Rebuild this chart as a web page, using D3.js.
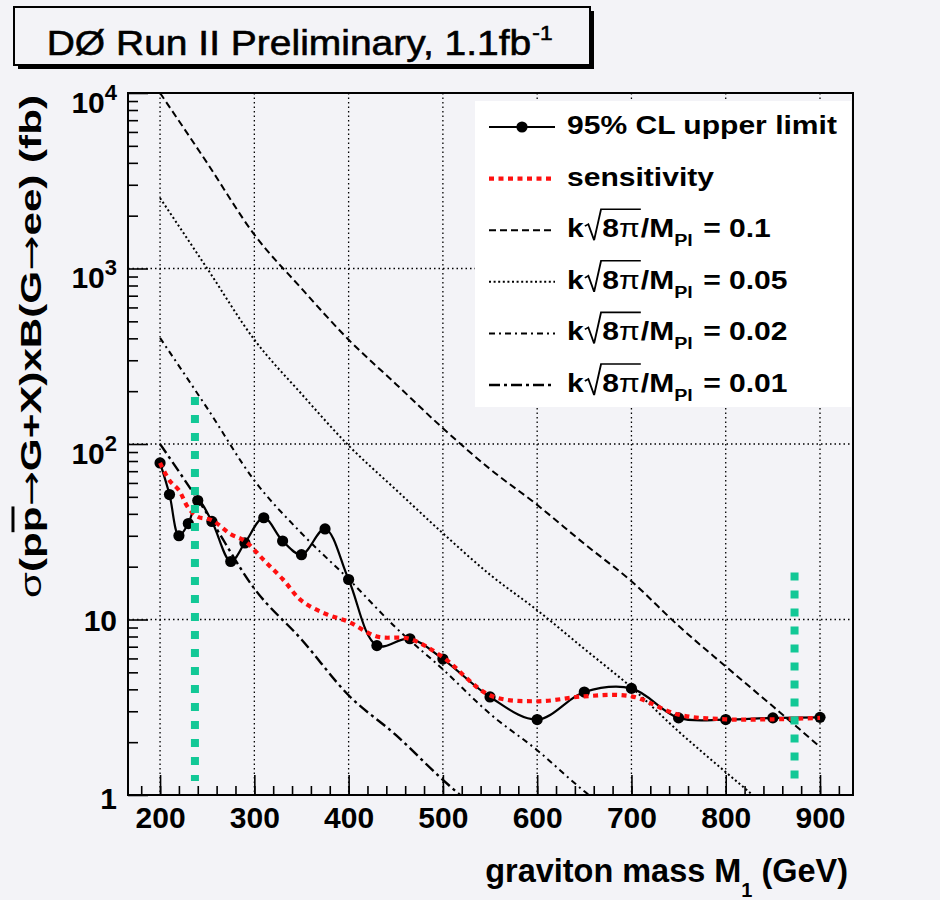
<!DOCTYPE html>
<html><head><meta charset="utf-8">
<script src="https://cdn.jsdelivr.net/npm/d3@7"></script>
<style>
body{margin:0;background:#f3f3f7}
text{font-family:"Liberation Sans",Arial,Helvetica,sans-serif}
</style>
</head><body>
<svg id="c" width="940" height="900"></svg>
<script>
// ---------------- data ----------------
const massLimit   = [200,210,220,230,240,255,275,290,310,330,350,375,400,430,465,500,550,600,650,700,750,800,850,900];
const upperLimit  = [78,51.5,30,35.2,47.6,36.2,21.4,27.3,38,28,23.4,32.8,16.9,7.1,7.77,5.95,3.62,2.69,3.86,4.05,2.75,2.69,2.75,2.77];
const sensitivity = [78,62,54.5,43.2,38.5,36.8,30.6,28,21.8,17,12.8,10.8,9.7,8.0,7.75,6.1,3.7,3.42,3.65,3.65,2.87,2.7,2.7,2.75];

const massTheory = [200,250,300,350,400,450,500,550,600,650,700,750,800,850,900];
const k010 = [10000,3990,1560,770,393,220,123,72,45,27,16.5,9.2,5.4,3.2,1.88];
const k005 = [2520,1000,393,193,98,55,31,18,11.3,6.8,4.1,2.3,1.35,0.8,0.47];
const k002 = [402,160,62,31,17,9,5.2,2.9,1.8,1.05,0.66,0.37,0.22,0.13,0.075];
const k001 = [100,40,15,7.7,3.7,2.2,1.22,0.72,0.45,0.27,0.165,0.093,0.054,0.032,0.019];

const exclMass   = [237, 873];
const exclTop    = [185, 18.5];
const exclBottom = [1.2, 1.22];

const xMajor = [200,300,400,500,600,700,800,900];
const xMinor = d3.range(180, 921, 20);
const yMajor = [1,10,100,1000,10000];
const yMajorLabels = [["1",""],["10",""],["10","2"],["10","3"],["10","4"]];
const yMinor = [1,10,100,1000].flatMap(d => [2,3,4,5,6,7,8,9].map(m => m*d));

const titleText = "DØ Run II Preliminary, 1.1fb";
const titleSup = "-1";
const legendNames = ["95% CL upper limit","sensitivity"];
const kValues = ["0.1","0.05","0.02","0.01"];

// ---------------- layout ----------------
const bg = "#f3f3f7";
const X0=128, X1=853, Y0=93, Y1=795;
const svg = d3.select("#c");
svg.append("rect").attr("width",940).attr("height",900).attr("fill",bg);

const x = d3.scaleLinear().domain([166,935]).range([X0,X1]);
const y = d3.scaleLog().domain([1,1e4]).range([Y1,Y0]);

svg.append("defs").append("clipPath").attr("id","plot")
  .append("rect").attr("x",X0).attr("y",Y0).attr("width",X1-X0).attr("height",Y1-Y0);

// grid
const grid = svg.append("g").attr("stroke","#000").attr("stroke-width",1.3).attr("stroke-dasharray","1.5 3");
grid.selectAll("line.v").data(xMajor).join("line").attr("class","v")
  .attr("x1",d=>x(d)).attr("x2",d=>x(d)).attr("y1",Y0).attr("y2",Y1);
grid.selectAll("line.h").data(yMajor.filter(d=>d>1&&d<1e4)).join("line").attr("class","h")
  .attr("x1",X0).attr("x2",X1).attr("y1",d=>y(d)).attr("y2",d=>y(d));

// axes
function styleAxis(g){ g.select(".domain").remove(); g.selectAll("line").attr("stroke","#000").attr("stroke-width",1.6); }
svg.append("g").attr("transform",`translate(0,${Y1})`)
  .call(d3.axisBottom(x).tickValues(xMinor).tickSize(-9).tickFormat("")).call(styleAxis);
const gxMajor = svg.append("g").attr("transform",`translate(0,${Y1})`)
  .call(d3.axisBottom(x).tickValues(xMajor).tickSize(-20).tickPadding(12).tickFormat(d3.format("d"))).call(styleAxis);
gxMajor.selectAll("text").attr("font-size",30).attr("font-weight","bold").attr("fill","#000")
  .attr("font-family","'Liberation Sans',Arial,sans-serif");

svg.append("g").attr("transform",`translate(${X0},0)`)
  .call(d3.axisLeft(y).tickValues(yMinor).tickSize(-10).tickFormat("")).call(styleAxis);
const gyMajor = svg.append("g").attr("transform",`translate(${X0},0)`)
  .call(d3.axisLeft(y).tickValues(yMajor).tickSize(-20).tickFormat("")).call(styleAxis);
gyMajor.selectAll(".tick").each(function(d,i){
  const lab = yMajorLabels[i];
  const t = d3.select(this).append("text").attr("x",-11).attr("text-anchor","end")
    .attr("fill","#000").attr("font-weight","bold").attr("font-size",30)
    .attr("font-family","'Liberation Sans',Arial,sans-serif");
  if (lab[1]) {
    t.attr("y",19);
    t.append("tspan").text(lab[0]);
    t.append("tspan").attr("font-size",22).attr("dy",-13).text(lab[1]);
  } else {
    t.attr("y", d===1 ? 13 : 11).text(lab[0]);
  }
});

// frame
svg.append("rect").attr("x",X0).attr("y",Y0).attr("width",X1-X0).attr("height",Y1-Y0)
  .attr("fill","none").attr("stroke","#000").attr("stroke-width",2);

// curves
const plot = svg.append("g").attr("clip-path","url(#plot)");
const lineT = d3.line().x((d,i)=>x(massTheory[i])).y(d=>y(d)).curve(d3.curveMonotoneX);
const theory = [
  {v:k010, dash:"7 4", w:2},
  {v:k005, dash:"2 2.6", w:2},
  {v:k002, dash:"6 4 2 4", w:2},
  {v:k001, dash:"11 4 3 4", w:2.4}
];
theory.forEach(t => {
  plot.append("path").attr("d", lineT(t.v)).attr("fill","none").attr("stroke","#000")
    .attr("stroke-width",t.w).attr("stroke-dasharray",t.dash);
});

const lineL = d3.line().x((d,i)=>x(massLimit[i])).y(d=>y(d)).curve(d3.curveCatmullRom.alpha(0.5));
plot.append("path").attr("d", lineL(upperLimit)).attr("fill","none").attr("stroke","#000").attr("stroke-width",2.2);
plot.selectAll("circle.pt").data(upperLimit).join("circle").attr("class","pt")
  .attr("cx",(d,i)=>x(massLimit[i])).attr("cy",d=>y(d)).attr("r",5.6).attr("fill","#000");
plot.append("path").attr("d", lineL(sensitivity)).attr("fill","none").attr("stroke","#ff1010")
  .attr("stroke-width",4.2).attr("stroke-dasharray","5 4.5");

// exclusion markers
plot.selectAll("line.excl").data(exclMass).join("line").attr("class","excl")
  .attr("x1",d=>x(d)).attr("x2",d=>x(d)).attr("y1",(d,i)=>y(exclTop[i])).attr("y2",(d,i)=>y(exclBottom[i]))
  .attr("stroke","#12c896").attr("stroke-width",8).attr("stroke-dasharray","8 10");

// ---------------- title ----------------
svg.append("rect").attr("x",18).attr("y",11).attr("width",576).attr("height",58).attr("fill","#000");
svg.append("rect").attr("x",14).attr("y",7).attr("width",576).attr("height",58).attr("fill",bg)
  .attr("stroke","#000").attr("stroke-width",2);
function fitGroup(g, target){
  const w = g.node().getBBox().width;
  return target / w;
}
const tg = svg.append("g");
const tt = tg.append("text").attr("font-size",36).attr("fill","#000").attr("stroke","#000").attr("stroke-width",0.6);
tt.append("tspan").text(titleText);
tt.append("tspan").attr("font-size",21).attr("dx",1).attr("dy",-15).text(titleSup);
const ts = fitGroup(tg, 506);
tg.attr("transform",`translate(46.7,55) scale(${ts},1)`);

// ---------------- legend ----------------
const FONT_L = 26;
svg.append("rect").attr("x",475).attr("y",101).attr("width",376).attr("height",306).attr("fill","#fff");
const rowY = i => 127 + i*51.6;
const probe = svg.append("text").attr("font-size",FONT_L).attr("font-weight","bold").text(legendNames[0]);
const sL = 270 / probe.node().getComputedTextLength();
probe.remove();

function legendText(i){
  return svg.append("g").attr("transform",`translate(567,${rowY(i)+7}) scale(${sL},1)`);
}
// row 0
svg.append("line").attr("x1",489).attr("x2",555).attr("y1",rowY(0)).attr("y2",rowY(0)).attr("stroke","#000").attr("stroke-width",2.2);
svg.append("circle").attr("cx",522).attr("cy",rowY(0)).attr("r",5.6).attr("fill","#000");
legendText(0).append("text").attr("font-size",FONT_L).attr("font-weight","bold").text(legendNames[0]);
// row 1
svg.append("line").attr("x1",489).attr("x2",555).attr("y1",rowY(1)).attr("y2",rowY(1)).attr("stroke","#ff1010")
  .attr("stroke-width",4.2).attr("stroke-dasharray","5 4.5");
legendText(1).append("text").attr("font-size",FONT_L).attr("font-weight","bold").text(legendNames[1]);
// rows 2-5
kValues.forEach((kv, j) => {
  const i = j + 2;
  const t = theory[j];
  svg.append("line").attr("x1",489).attr("x2",555).attr("y1",rowY(i)).attr("y2",rowY(i)).attr("stroke","#000")
    .attr("stroke-width",t.w).attr("stroke-dasharray",t.dash);
  const g = legendText(i);
  let cx = 0;
  const piece = (s, opts={}) => {
    const el = g.append("text").attr("x",cx).attr("y",opts.dy||0).attr("font-size",opts.size||FONT_L)
      .attr("font-weight",opts.weight||"bold").text(s);
    cx += el.node().getComputedTextLength() + (opts.gap||0);
    return el;
  };
  piece("k", {gap:1});
  const r0 = cx;
  cx += 15;
  piece("8");
  piece("π", {weight:"normal"});
  const innerEnd = cx + 1;
  g.append("path").attr("d",`M${r0},-11 L${r0+3},-13 L${r0+8},3 L${r0+14},-28 L${innerEnd},-28`)
    .attr("fill","none").attr("stroke","#000").attr("stroke-width",1.6);
  cx = innerEnd;
  piece("/M");
  piece("Pl", {size:17, dy:9, gap:9});
  piece("= " + kv);
});

// ---------------- axis titles ----------------
const xg = svg.append("g");
const xt = xg.append("text").attr("font-size",32.5).attr("font-weight","bold").attr("text-anchor","end");
xt.append("tspan").text("graviton mass M");
xt.append("tspan").attr("font-size",20).attr("dy",15).text("1");
xt.append("tspan").attr("dy",-15).text(" (GeV)");
const xs = fitGroup(xg, 363);
xg.attr("transform",`translate(848,882) scale(${xs},1)`);

const yg = svg.append("g");
const yt = yg.append("text").attr("font-size",30).attr("font-weight","bold");
yt.append("tspan").attr("font-weight","normal").text("σ");
yt.append("tspan").text("(p");
yt.append("tspan").style("text-decoration","overline").text("p");
yt.append("tspan").attr("font-weight","normal").attr("font-family","'DejaVu Sans'").attr("font-size",30).text("→");
yt.append("tspan").text("G+X)xB(G");
yt.append("tspan").attr("font-weight","normal").attr("font-family","'DejaVu Sans'").attr("font-size",30).text("→");
yt.append("tspan").text("ee) (fb)");
const ys = fitGroup(yg, 503);
yg.attr("transform",`translate(41,598) rotate(-90) scale(${ys},1)`);
</script>
</body></html>
